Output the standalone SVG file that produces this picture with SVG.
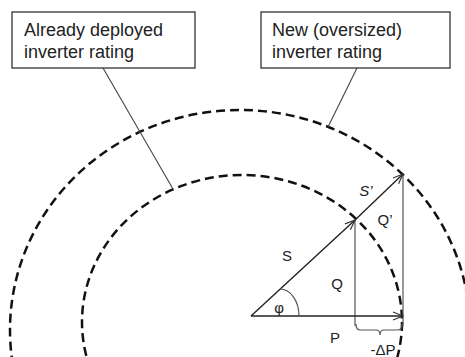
<svg xmlns="http://www.w3.org/2000/svg" width="465" height="357" viewBox="0 0 465 357">
<style>
.box{fill:#fff;stroke:#333;stroke-width:1.3}
.bt{font-family:"Liberation Sans",Arial,sans-serif;font-size:18px;fill:#222}
.lbl{font-family:"Liberation Sans",Arial,sans-serif;font-size:15px;fill:#222}
.ring{fill:none;stroke:#111;stroke-width:2.5;stroke-dasharray:9 5}
.lead{stroke:#444;stroke-width:1.1;fill:none}
.vec{stroke:#222;stroke-width:1.4;fill:none}
.vl{stroke:#555;stroke-width:1.2;fill:none}
</style>
<defs>
<marker id="arr" markerWidth="12" markerHeight="10" refX="11" refY="5" orient="auto" markerUnits="userSpaceOnUse">
<path d="M1,1 L11,5 L1,9" fill="none" stroke="#333" stroke-width="1.2"/>
</marker>
</defs>
<g id="rings">
<ellipse class="ring" cx="240" cy="330" rx="230" ry="220"/>
<ellipse class="ring" cx="242" cy="322" rx="160" ry="147"/>
</g>
<g id="connectors">
<line class="lead" x1="103" y1="68" x2="173" y2="189"/>
<line class="lead" x1="357" y1="68" x2="328" y2="127"/>
<line class="vl" x1="355" y1="220" x2="355" y2="326"/>
<line class="vl" x1="403" y1="174" x2="403" y2="326"/>
<path class="vl" d="M356,324 Q356,330 360,330 L376,330 Q380,330 380,335 Q380,330 384,330 L398,330 Q402,330 402,324"/>
<line class="vec" x1="251" y1="316" x2="403" y2="316" marker-end="url(#arr)"/>
<line class="vec" x1="251" y1="316" x2="355" y2="220" marker-end="url(#arr)"/>
<line class="vec" x1="355" y1="220" x2="403" y2="174" marker-end="url(#arr)"/>
<path class="vl" d="M280,289 A19 27 0 0 1 299 316"/>
</g>
<g id="box1">
<rect class="box" x="12" y="12" width="183" height="56"/>
<text class="bt" x="24" y="35.5">Already deployed</text>
<text class="bt" x="24" y="58">inverter rating</text>
</g>
<g id="box2">
<rect class="box" x="261" y="12" width="189" height="56"/>
<text class="bt" x="272" y="35.5">New (oversized)</text>
<text class="bt" x="272" y="58">inverter rating</text>
</g>
<g id="labels">
<text class="lbl" x="287" y="261" text-anchor="middle">S</text>
<text class="lbl" x="337" y="289" text-anchor="middle">Q</text>
<text class="lbl" x="279" y="313" text-anchor="middle">φ</text>
<text class="lbl" x="335" y="343" text-anchor="middle">P</text>
<text class="lbl" x="366" y="196" text-anchor="middle" font-style="italic">S’</text>
<text class="lbl" x="385" y="225" text-anchor="middle">Q’</text>
<text class="lbl" x="383" y="355" text-anchor="middle">-ΔP</text>
</g>
</svg>
